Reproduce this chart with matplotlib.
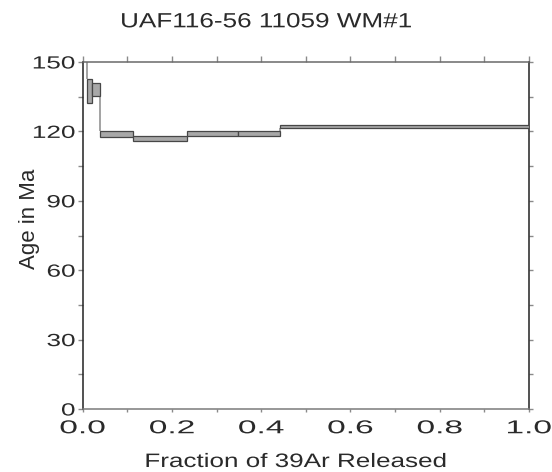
import numpy as np
import matplotlib
matplotlib.use('Agg')
import matplotlib.pyplot as plt
from matplotlib.patheffects import AbstractPathEffect
from matplotlib.transforms import Affine2D
from matplotlib.ticker import MultipleLocator

plt.rcParams['font.family'] = ['Liberation Sans', 'DejaVu Sans']

# ---- data ----
title = "UAF116-56 11059 WM#1"
x_label = "Fraction of 39Ar Released"
y_label = "Age in Ma"
step_left = [0.000, 0.009, 0.020, 0.039, 0.112, 0.233, 0.347, 0.441]
step_right = [0.009, 0.020, 0.039, 0.112, 0.233, 0.347, 0.441, 1.000]
ages = [170.0, 137.4, 138.1, 118.9, 117.0, 119.0, 119.0, 122.2]
errors = [5.0, 5.2, 2.7, 1.2, 1.0, 1.0, 1.0, 0.6]
x_ticks = [0.0, 0.2, 0.4, 0.6, 0.8, 1.0]
x_tick_labels = ['0.0', '0.2', '0.4', '0.6', '0.8', '1.0']
y_ticks = [0, 30, 60, 90, 120, 150]
y_tick_labels = ['0', '30', '60', '90', '120', '150']


class Stretch(AbstractPathEffect):
    """Horizontal glyph stretch (the reference text is drawn wide)."""
    def __init__(self, sx=1.0, anchor='center'):
        super().__init__()
        self._sx = sx
        self._anchor = anchor

    def draw_path(self, renderer, gc, tpath, affine, rgbFace=None):
        ext = tpath.get_extents(affine)
        if self._anchor == 'right':
            cx = ext.x1
        elif self._anchor == 'left':
            cx = ext.x0
        else:
            cx = 0.5 * (ext.x0 + ext.x1)
        t = affine + Affine2D().translate(-cx, 0).scale(self._sx, 1).translate(cx, 0)
        renderer.draw_path(gc, tpath, t, rgbFace)


W, H = 552, 472
fig = plt.figure(figsize=(W / 100, H / 100), dpi=100)
L, R, T, B = 82.7, 529.0, 62.0, 409.0
ax = fig.add_axes([L / W, 1 - B / H, (R - L) / W, (B - T) / H])
ax.set_xlim(0, 1)
ax.set_ylim(0, 150)

lefts = np.array(step_left)
widths = np.array(step_right) - lefts
a = np.array(ages)
e = np.array(errors)
ax.bar(lefts, 2 * e, width=widths, bottom=a - e, align='edge',
       color='#a8a8a8', edgecolor='#474747', linewidth=0.9, zorder=3)

# vertical connectors between adjacent steps
cx, cy0, cy1 = [], [], []
for i in range(len(a) - 1):
    top_i, bot_i = a[i] + e[i], a[i] - e[i]
    top_j, bot_j = a[i + 1] + e[i + 1], a[i + 1] - e[i + 1]
    if bot_i > top_j:
        cx.append(step_right[i]); cy0.append(top_j); cy1.append(bot_i)
    elif bot_j > top_i:
        cx.append(step_right[i]); cy0.append(top_i); cy1.append(bot_j)
ax.vlines(cx, cy0, cy1, colors='#8a8a8a', linewidth=1.1, zorder=2)

# spines
ax.spines['left'].set_color('#222222')
ax.spines['right'].set_color('#222222')
ax.spines['top'].set_color('#6a6a6a')
ax.spines['bottom'].set_color('#7a7a7a')
for s in ax.spines.values():
    s.set_linewidth(1.1)

text_color = '#2a2a2a'
ax.set_xticks(x_ticks)
ax.set_xticklabels(x_tick_labels)
ax.xaxis.set_minor_locator(MultipleLocator(0.1))
ax.set_yticks(y_ticks)
ax.set_yticklabels(y_tick_labels)
ax.yaxis.set_minor_locator(MultipleLocator(15))

ax.tick_params(axis='x', which='both', direction='out', length=1.8, width=1.0,
               color='#8a8a8a', labelsize=13.4, pad=6.3, labelcolor=text_color)
ax.tick_params(axis='y', which='both', direction='out', length=3.7, width=1.0,
               color='#8a8a8a', labelsize=12.7, pad=1.6, labelcolor=text_color)

for lbl in ax.get_xticklabels():
    lbl.set_path_effects([Stretch(1.8, 'center')])
for lbl in ax.get_yticklabels():
    lbl.set_path_effects([Stretch(1.48, 'right')])

# top and right ticks
secx = ax.secondary_xaxis('top')
secx.xaxis.set_major_locator(MultipleLocator(0.1))
secx.tick_params(axis='x', direction='out', length=4.1, width=1.0,
                 color='#8a8a8a', labeltop=False, labelbottom=False)
secx.spines['top'].set_visible(False)
secy = ax.secondary_yaxis('right')
secy.yaxis.set_major_locator(MultipleLocator(15))
secy.tick_params(axis='y', direction='out', length=3.0, width=1.0,
                 color='#8a8a8a', labelright=False, labelleft=False)
secy.spines['right'].set_visible(False)

# texts
fig.text(266 / W, 1 - 27.3 / H, title, ha='center', va='baseline',
         fontsize=14.8, color=text_color, path_effects=[Stretch(1.27, 'center')])
fig.text(296.5 / W, 1 - 467 / H, x_label, ha='center', va='baseline',
         fontsize=14, color=text_color, path_effects=[Stretch(1.34, 'center')])
fig.text(29 / W, 1 - 218.5 / H, y_label, ha='center', va='center', rotation=90,
         fontsize=16, color=text_color)

fig.savefig('out.png', dpi=100)
